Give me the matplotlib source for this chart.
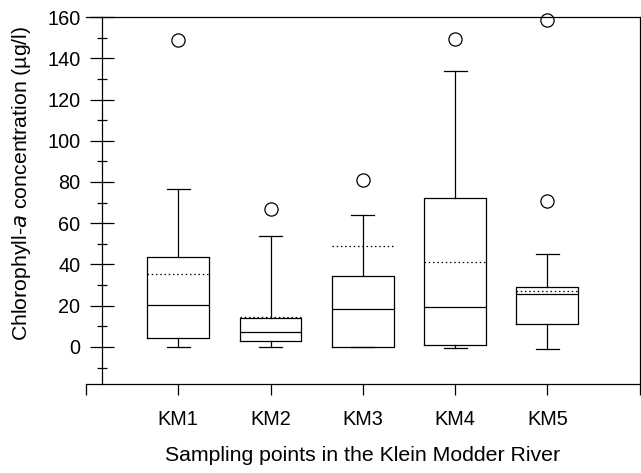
import matplotlib
matplotlib.use("Agg")
import matplotlib.pyplot as plt
from matplotlib.ticker import MultipleLocator

plt.rcParams["font.family"] = ["Liberation Sans", "DejaVu Sans"]

sites = ["KM1", "KM2", "KM3", "KM4", "KM5"]
whislo = [0.2, 0.2, 0.0, -0.3, -0.8]
q1 = [4.5, 2.7, 0.1, 0.8, 11.2]
med = [20.4, 7.1, 18.6, 19.2, 25.5]
q3 = [43.8, 14.2, 34.6, 72.2, 28.9]
whishi = [76.6, 53.8, 64.0, 134.0, 45.1]
means = [35.5, 14.5, 48.8, 41.2, 27.2]
outliers = [[148.8], [66.8], [81.0], [149.2], [158.5, 70.9]]

stats = []
for i, s in enumerate(sites):
    stats.append(dict(label=s, whislo=whislo[i], q1=q1[i], med=med[i], q3=q3[i],
                      whishi=whishi[i], mean=means[i], fliers=outliers[i]))

fig = plt.figure(figsize=(6.41, 4.73), dpi=100)
ax = fig.add_axes([0.134, 0.188, 0.864, 0.776])

lw = 0.9
ax.bxp(stats, positions=range(1, 6), widths=0.67, showmeans=True, meanline=True,
       boxprops=dict(color="black", linewidth=lw),
       medianprops=dict(color="black", linewidth=lw),
       whiskerprops=dict(color="black", linewidth=lw),
       capprops=dict(color="black", linewidth=lw),
       capwidths=0.25,
       meanprops=dict(color="black", linestyle=(0, (1.2, 2.2)), linewidth=lw),
       flierprops=dict(marker="o", markerfacecolor="none", markeredgecolor="black",
                       markersize=9.5, markeredgewidth=0.9, clip_on=False))

ax.set_xlim(0, 6)
ax.set_ylim(-18, 160)

ax.spines["left"].set_position(("data", 0.173))
for sp in ax.spines.values():
    sp.set_linewidth(lw)

ax.set_xticks(range(0, 7))
ax.set_xticklabels([""] + sites + [""])
ax.tick_params(axis="x", direction="out", length=8, width=lw, labelsize=14.3, pad=11)

ax.yaxis.set_major_locator(MultipleLocator(20))
ax.yaxis.set_minor_locator(MultipleLocator(10))
ax.set_yticks(range(0, 161, 20))
ax.tick_params(axis="y", which="major", direction="inout", length=17, width=lw,
               labelsize=14.3, pad=7)
ax.tick_params(axis="y", which="minor", direction="inout", length=7, width=lw)

ax.set_ylabel("Chlorophyll-$a$ concentration (µg/l)", fontsize=15.3)
ax.yaxis.set_label_coords(-0.096, 0.548)
ax.set_xlabel("Sampling points in the Klein Modder River", fontsize=15.3, labelpad=12)

fig.savefig("out.png", dpi=100)
